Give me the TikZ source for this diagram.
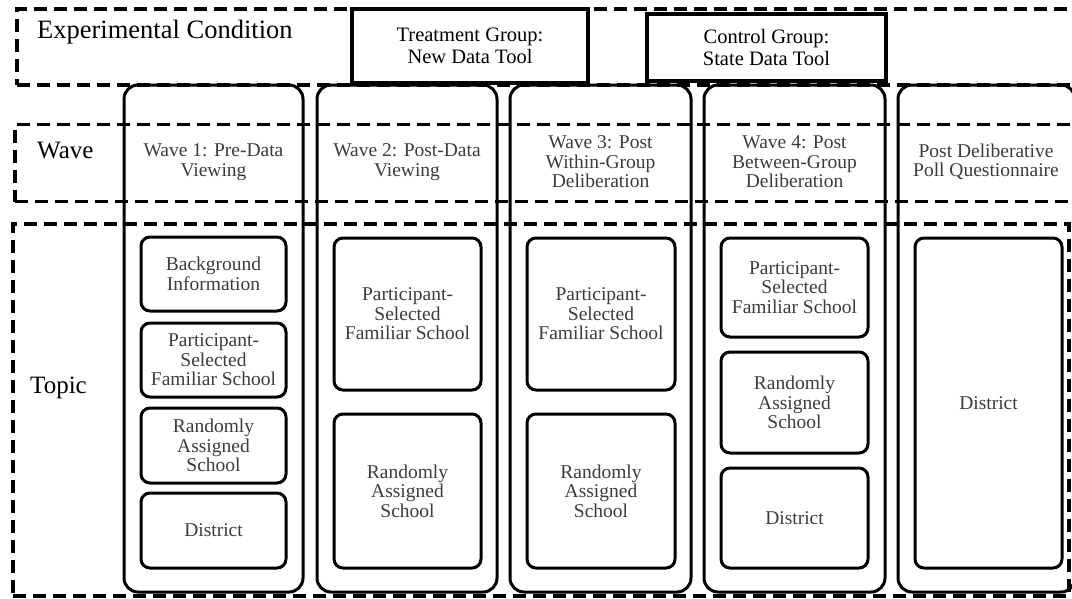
\documentclass[tikz,border=0pt]{standalone}
\usepackage{fontspec}
\setmainfont{Liberation Serif}
\definecolor{txtgray}{HTML}{3C3C3C}
\begin{document}
\begin{tikzpicture}[x=1pt,y=-1pt,
  dbox/.style={draw, line width=3.5pt, dash pattern=on 13pt off 7pt, inner sep=0pt},
  grp/.style={draw, fill=white, line width=4.5pt, inner sep=0pt, align=center, font=\fontsize{20.5}{22}\selectfont},
  col/.style={draw, line width=3pt, rounded corners=14pt, inner sep=0pt},
  ibox/.style={draw, line width=3pt, rounded corners=9pt, inner sep=0pt, align=center, text=txtgray, font=\fontsize{19.5}{19.5}\selectfont},
  wtxt/.style={align=center, text=txtgray, font=\fontsize{19.5}{19.5}\selectfont},
  lbl/.style={anchor=west, inner sep=0pt, font=\fontsize{25}{25}\selectfont}]
\useasboundingbox (0,0) rectangle (1072,598);
\clip (0,0) rectangle (1072,598);
% dashed bands
\node[dbox, minimum width=1057, minimum height=76] (exp) at (545.5,47) {};
\node[dbox, minimum width=1059, minimum height=77] (wave) at (544.5,163) {};
\node[dbox, minimum width=1056, minimum height=372] (topic) at (541,410) {};
\node[lbl, font=\fontsize{26.5}{26.5}\selectfont] (explbl) at (37,32) {Experimental Condition};
\node[lbl] (wavelbl) at (37,150) {Wave};
\node[lbl] (topiclbl) at (30,388) {Topic};
% groups
\node[grp, minimum width=236, minimum height=74] (treat) at (470,46) {Treatment Group:\\New Data Tool};
\node[grp, line width=4pt, minimum width=239, minimum height=67] (ctrl) at (766.5,47.5) {Control Group:\\State Data Tool};
% columns
\node[col, minimum width=179, minimum height=507] (c1) at (213.5,338.5) {};
\node[col, minimum width=180, minimum height=507] (c2) at (407,338.5) {};
\node[col, minimum width=181, minimum height=507] (c3) at (600.5,338.5) {};
\node[col, minimum width=181, minimum height=507] (c4) at (794.5,338.5) {};
\node[col, minimum width=177, minimum height=507] (c5) at (986.5,338.5) {};
% wave labels
\node[wtxt] (w1) at (213.5,162) {Wave 1: Pre-Data\\Viewing};
\node[wtxt] (w2) at (407,162) {Wave 2: Post-Data\\Viewing};
\node[wtxt] (w3) at (600.5,162) {Wave 3: Post\\Within-Group\\Deliberation};
\node[wtxt] (w4) at (794.5,162) {Wave 4: Post\\Between-Group\\Deliberation};
\node[wtxt] (w5) at (986,162) {Post Deliberative\\Poll Questionnaire};
% column 1 topics
\node[ibox, minimum width=145, minimum height=74] (t11) at (213.5,274) {Background\\Information};
\node[ibox, minimum width=145, minimum height=74] (t12) at (213.5,360) {Participant-\\Selected\\Familiar School};
\node[ibox, minimum width=145, minimum height=75] (t13) at (213.5,445.5) {Randomly\\Assigned\\School};
\node[ibox, minimum width=145, minimum height=75] (t14) at (213.5,530.5) {District};
% column 2 topics
\node[ibox, minimum width=147, minimum height=152] (t21) at (407.5,314) {Participant-\\Selected\\Familiar School};
\node[ibox, minimum width=147, minimum height=154] (t22) at (407.5,491) {Randomly\\Assigned\\School};
% column 3 topics
\node[ibox, minimum width=148, minimum height=152] (t31) at (601,314) {Participant-\\Selected\\Familiar School};
\node[ibox, minimum width=148, minimum height=154] (t32) at (601,491) {Randomly\\Assigned\\School};
% column 4 topics
\node[ibox, minimum width=147, minimum height=99] (t41) at (794.5,287.5) {Participant-\\Selected\\Familiar School};
\node[ibox, minimum width=147, minimum height=101] (t42) at (794.5,402.5) {Randomly\\Assigned\\School};
\node[ibox, minimum width=147, minimum height=100] (t43) at (794.5,518) {District};
% column 5 topics
\node[ibox, minimum width=147, minimum height=330] (t51) at (988.5,403) {District};
\end{tikzpicture}
\end{document}
